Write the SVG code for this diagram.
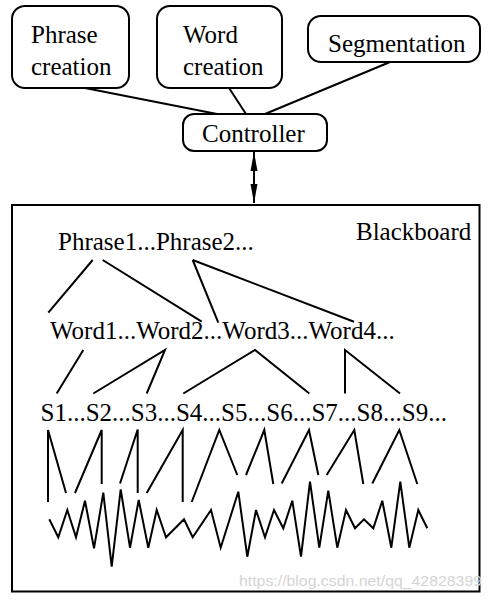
<svg xmlns="http://www.w3.org/2000/svg" width="491" height="603" viewBox="0 0 491 603">
<style>
.box{fill:#fff;stroke:#000;stroke-width:2}
.t{font-family:'Liberation Serif','Times New Roman',serif;font-size:25px;fill:#000}
.ln{fill:none;stroke:#000;stroke-width:2;stroke-linejoin:miter;stroke-linecap:butt}
.wm{font-family:'Liberation Sans',Arial,sans-serif;font-size:15px;fill:#d4d4d4}
</style>
<defs>
<marker id="ah" markerWidth="20" markerHeight="8" refX="19" refY="4" orient="auto-start-reverse" markerUnits="userSpaceOnUse">
<path d="M0,0.5 L19,4 L0,7.5 Z" fill="#000"/>
</marker>
</defs>
<rect width="491" height="603" fill="#fff"/>
<g id="connectors">
<line class="ln" x1="85" y1="88" x2="217" y2="114"/>
<line class="ln" x1="229" y1="88" x2="246" y2="114"/>
<line class="ln" x1="390" y1="62" x2="265" y2="114"/>
<line class="ln" x1="254" y1="152" x2="254" y2="203" marker-start="url(#ah)" marker-end="url(#ah)"/>
</g>
<g id="phrase-creation">
<rect class="box" x="12" y="6" width="117" height="82" rx="13"/>
<text class="t" x="31" y="43">Phrase</text>
<text class="t" x="31" y="75">creation</text>
</g>
<g id="word-creation">
<rect class="box" x="157" y="6" width="125" height="82" rx="13"/>
<text class="t" x="183" y="43">Word</text>
<text class="t" x="183" y="75">creation</text>
</g>
<g id="segmentation">
<rect class="box" x="308" y="16" width="172" height="46" rx="13"/>
<text class="t" x="328" y="52">Segmentation</text>
</g>
<g id="controller">
<rect class="box" x="183" y="114" width="144" height="37" rx="11"/>
<text class="t" x="202" y="142">Controller</text>
</g>
<g id="blackboard">
<rect class="box" x="12" y="205" width="467.5" height="386.5"/>
<text class="t" x="356" y="240">Blackboard</text>
<text class="t" x="58" y="250">Phrase1...Phrase2...</text>
<text class="t" x="50" y="339">Word1...Word2...Word3...Word4...</text>
<text class="t" x="40.5" y="421">S1...S2...S3...S4...S5...S6...S7...S8...S9...</text>
<g>
<line class="ln" x1="92.7" y1="260" x2="48.3" y2="312.7"/>
<line class="ln" x1="102.7" y1="260" x2="201.7" y2="321.7"/>
<line class="ln" x1="192.7" y1="260" x2="218.3" y2="322.7"/>
<line class="ln" x1="192.7" y1="260" x2="354" y2="321.7"/>
<line class="ln" x1="83.3" y1="350" x2="56.7" y2="393.5"/>
<polyline class="ln" points="93.3,393.5 165,350 146.7,393.5"/>
<polyline class="ln" points="183.3,393.5 255,350 309.3,393.5"/>
<polyline class="ln" points="345,393.5 345,350 400,393.5"/>
</g>
<g>
<polyline class="ln" points="48,502 48,430 66,493"/>
<polyline class="ln" points="75,493 101.7,430 101.7,484"/>
<polyline class="ln" points="120,483.5 137.7,429.5 137.7,493"/>
<polyline class="ln" points="146.7,493 182.7,430 182.7,502"/>
<polyline class="ln" points="191.7,502 219.3,430 237.3,475"/>
<polyline class="ln" points="246,475 264.3,430 273.3,484"/>
<polyline class="ln" points="281.7,483.5 309,430 318.3,475"/>
<polyline class="ln" points="326.7,475 354.3,430 363.3,484"/>
<polyline class="ln" points="372.3,483.5 399.3,430 417.3,484"/>
<polyline class="ln" points="49.3,519.3 58.3,537.3 67.3,510 76,537.3 85,500.7 94,548.3 103.3,492.7 111.7,566.7 120.7,489.3 130,547.7 138.7,500 148.3,547.7 156.7,510 166,537.3 184,519.3 192.7,537.3 211,510 220.7,547.7 238.3,491.7 247.3,556.7 256,510 265,537.3 274,510 283.3,528.3 292.3,500.7 301,556.7 310,481.7 319.3,547.7 328.3,490.7 337.3,547.7 346,510 355,528.3 364,519.3 373.3,528.3 382.3,500.7 391.3,547.7 400.3,481.7 409.3,547.7 418.3,510 427.3,528.3"/>
</g>
</g>
<text class="wm" x="239" y="586" textLength="243" lengthAdjust="spacingAndGlyphs">https://blog.csdn.net/qq_42828399</text>
</svg>
